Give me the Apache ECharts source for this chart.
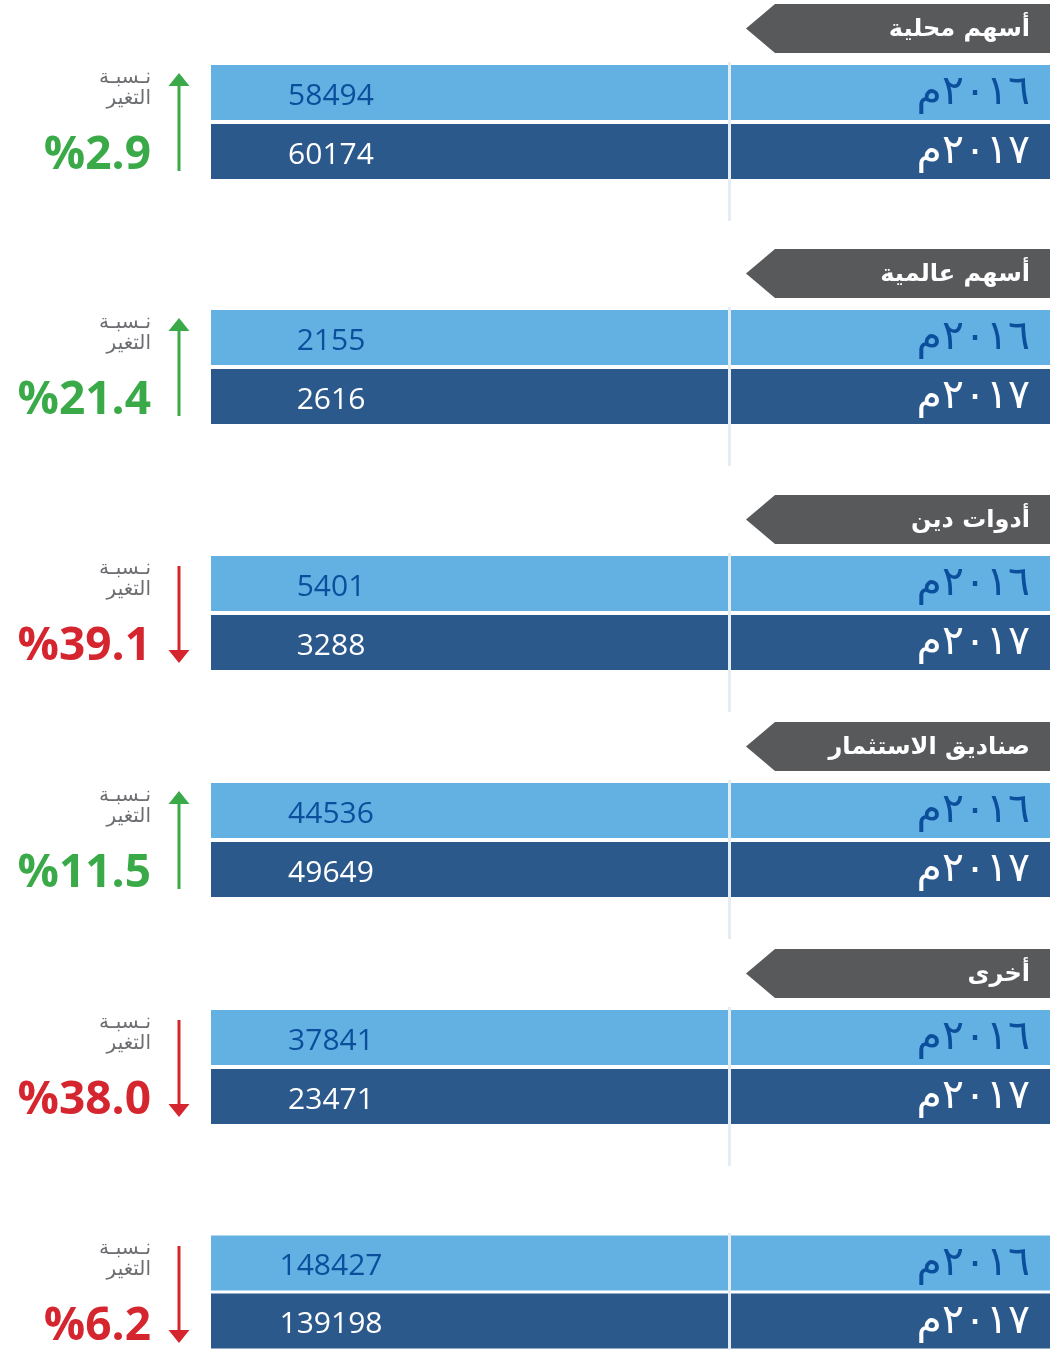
<!DOCTYPE html>
<html>
<head>
<meta charset="utf-8">
<script src="https://cdn.jsdelivr.net/npm/echarts@6/dist/echarts.min.js"></script>
<style>
  html, body { margin: 0; padding: 0; background: #fff; }
  #main { width: 1052px; height: 1350px; }
</style>
</head>
<body>
<div id="main"></div>
<script>
// 数据
var categories = ['أسهم محلية', 'أسهم عالمية', 'أدوات دين', 'صناديق الاستثمار', 'أخرى', ''];
var years = ['٢٠١٦م', '٢٠١٧م'];
var values2016 = [58494, 2155, 5401, 44536, 37841, 148427];
var values2017 = [60174, 2616, 3288, 49649, 23471, 139198];
var changePct = [2.9, 21.4, 39.1, 11.5, 38.0, 6.2];
var changeDir = ['up', 'up', 'down', 'up', 'down', 'down'];

// 布局
var groupTop = [65, 310, 556, 783, 1010, 1236];
var barLeft = 211, barRight = 1050;
var split = 0.618; // 数值区 / 年份区 分界
var barColors = ['#63b1e3', '#2c598c'];
var valueColors = ['#0b4f9c', '#ffffff'];
var upColor = '#3aaa49', downColor = '#d5262f';

var grids = [], xAxes = [], yAxes = [], series = [], graphics = [];

categories.forEach(function (name, i) {
  var t = groupTop[i];
  grids.push({ left: barLeft, width: barRight - barLeft, top: t - 2, height: 118 });
  xAxes.push({ type: 'value', gridIndex: i, min: 0, max: 1, show: false });
  yAxes.push({ type: 'category', gridIndex: i, data: years, inverse: true, show: false });

  var vals = [values2016[i], values2017[i]];
  // 数值部分
  series.push({
    type: 'bar', xAxisIndex: i, yAxisIndex: i, stack: 'g' + i, barWidth: 55, silent: true,
    data: vals.map(function (v, k) {
      return {
        value: split,
        itemStyle: { color: barColors[k] },
        label: {
          show: true, position: [120, 31], align: 'center', verticalAlign: 'middle',
          formatter: String(v), color: valueColors[k],
          fontFamily: 'Open Sans', fontWeight: 500, fontSize: 30
        }
      };
    })
  });
  // 年份部分
  series.push({
    type: 'bar', xAxisIndex: i, yAxisIndex: i, stack: 'g' + i, barWidth: 55, silent: true,
    data: years.map(function (y, k) {
      return {
        value: 1 - split,
        itemStyle: { color: barColors[k] },
        label: {
          show: true, position: 'insideRight', distance: 20, offset: [0, 1],
          formatter: y, color: valueColors[k],
          fontFamily: 'DejaVu Sans', fontSize: 41
        }
      };
    })
  });

  // 分界线
  var divX = barLeft + split * (barRight - barLeft) - 1.5;
  graphics.push({
    type: 'rect', z: 100,
    shape: { x: divX, y: t - 3, width: 3, height: i < 5 ? 159 : 120 },
    style: { fill: '#e4ecf6' }
  });

  // 标题
  if (name) {
    graphics.push({
      type: 'polygon', z: 100,
      shape: { points: [[775, t - 61], [barRight, t - 61], [barRight, t - 12], [775, t - 12], [746, t - 36.5]] },
      style: { fill: '#58595b' }
    });
    graphics.push({
      type: 'text', z: 101, x: 1030, y: t - 35,
      style: { text: name, fill: '#fff', font: 'bold 24px "DejaVu Sans"', textAlign: 'right', textVerticalAlign: 'middle' }
    });
  }

  // 变化率
  var c = changeDir[i] === 'up' ? upColor : downColor;
  graphics.push({
    type: 'text', z: 101, x: 151, y: t + 13,
    style: { text: 'نـسبـة', fill: '#6d6e71', font: '20px "DejaVu Sans"', textAlign: 'right', textVerticalAlign: 'middle' }
  });
  graphics.push({
    type: 'text', z: 101, x: 151, y: t + 34,
    style: { text: 'التغير', fill: '#6d6e71', font: '20px "DejaVu Sans"', textAlign: 'right', textVerticalAlign: 'middle' }
  });
  graphics.push({
    type: 'text', z: 101, x: 151, y: t + 91,
    style: { text: '%' + changePct[i].toFixed(1), fill: c, font: 'bold 46px "Open Sans"', textAlign: 'right', textVerticalAlign: 'middle' }
  });

  // 箭头
  if (changeDir[i] === 'up') {
    graphics.push({ type: 'line', z: 101, shape: { x1: 179, y1: t + 18, x2: 179, y2: t + 106 }, style: { stroke: c, lineWidth: 3 } });
    graphics.push({ type: 'polygon', z: 101, shape: { points: [[179, t + 8], [189.5, t + 21], [168.5, t + 21]] }, style: { fill: c } });
  } else {
    graphics.push({ type: 'line', z: 101, shape: { x1: 179, y1: t + 10, x2: 179, y2: t + 97 }, style: { stroke: c, lineWidth: 3 } });
    graphics.push({ type: 'polygon', z: 101, shape: { points: [[179, t + 107], [189.5, t + 94], [168.5, t + 94]] }, style: { fill: c } });
  }
});

var chart = echarts.init(document.getElementById('main'));
chart.setOption({
  animation: false,
  grid: grids,
  xAxis: xAxes,
  yAxis: yAxes,
  series: series,
  graphic: graphics
});
</script>
</body>
</html>
